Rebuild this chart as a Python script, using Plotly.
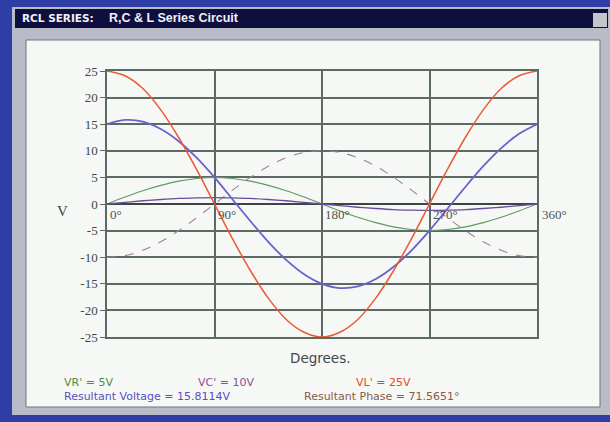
import plotly.graph_objects as go

degrees = [0, 15, 30, 45, 60, 75, 90, 105, 120, 135, 150, 165, 180,
           195, 210, 225, 240, 255, 270, 285, 300, 315, 330, 345, 360]
vl = [25, 24.1, 21.7, 17.7, 12.5, 6.5, 0, -6.5, -12.5, -17.7, -21.7, -24.1, -25,
      -24.1, -21.7, -17.7, -12.5, -6.5, 0, 6.5, 12.5, 17.7, 21.7, 24.1, 25]
vr = [0, 1.3, 2.5, 3.5, 4.3, 4.8, 5, 4.8, 4.3, 3.5, 2.5, 1.3, 0,
      -1.3, -2.5, -3.5, -4.3, -4.8, -5, -4.8, -4.3, -3.5, -2.5, -1.3, 0]
vc = [-10, -9.7, -8.7, -7.1, -5, -2.6, 0, 2.6, 5, 7.1, 8.7, 9.7, 10,
      9.7, 8.7, 7.1, 5, 2.6, 0, -2.6, -5, -7.1, -8.7, -9.7, -10]
vres = [15, 15.8, 15.5, 14.1, 11.8, 8.7, 5, 0.9, -3.2, -7.1, -10.5, -13.2, -15,
        -15.8, -15.5, -14.1, -11.8, -8.7, -5, -0.9, 3.2, 7.1, 10.5, 13.2, 15]
vsmall = [0, 0.3, 0.6, 0.85, 1.05, 1.15, 1.2, 1.15, 1.05, 0.85, 0.6, 0.3, 0,
          -0.3, -0.6, -0.85, -1.05, -1.15, -1.2, -1.15, -1.05, -0.85, -0.6, -0.3, 0]

y_ticks = [25, 20, 15, 10, 5, 0, -5, -10, -15, -20, -25]
y_tick_text = ["25", "20", "15", "10", "5", "0", "-5", "-10", "-15", "-20", "-25"]
x_grid = [0, 90, 180, 270, 360]
deg_labels = ["0°", "90°", "180°", "270°", "360°"]

title_left = "<b>RCL SERIES:</b>"
title_right = "<b>R,C &amp; L Series Circuit</b>"

W, H = 610, 422
L, R, T, B = 107, 73, 71, 85
PW, PH = W - L - R, H - T - B


def px(x):
    return (x - L) / PW


def py(y):
    return (H - B - y) / PH


fig = go.Figure()

fig.add_trace(go.Scatter(x=degrees, y=vc, mode="lines", line=dict(color="#a47e92", width=1.1, dash="dash", shape="spline")))
fig.add_trace(go.Scatter(x=degrees, y=vr, mode="lines", line=dict(color="#5f9a5e", width=1.1, shape="spline")))
fig.add_trace(go.Scatter(x=degrees, y=vsmall, mode="lines", line=dict(color="#6a4c9c", width=1.4, shape="spline")))
fig.add_trace(go.Scatter(x=degrees, y=vres, mode="lines", line=dict(color="#6a62cc", width=1.8, shape="spline")))
fig.add_trace(go.Scatter(x=degrees, y=vl, mode="lines", line=dict(color="#ea5a34", width=1.5, shape="spline")))

shapes = [
    # window body
    dict(type="rect", xref="paper", yref="paper", x0=px(12), x1=px(612), y0=py(415), y1=py(7),
         fillcolor="#b9bcc6", line=dict(width=0), layer="below"),
    # title bar
    dict(type="rect", xref="paper", yref="paper", x0=px(15), x1=px(608), y0=py(28), y1=py(9),
         fillcolor="#0e0f3e", line=dict(width=0), layer="below"),
    # close button
    dict(type="rect", xref="paper", yref="paper", x0=px(593), x1=px(607), y0=py(27), y1=py(13),
         fillcolor="#c4c6cc", line=dict(width=0), layer="below"),
    # client area
    dict(type="rect", xref="paper", yref="paper", x0=px(26), x1=px(600), y0=py(407), y1=py(40),
         fillcolor="#f6f8f6", line=dict(color="#70747a", width=1), layer="below"),
]

annotations = [
    dict(text=title_left, xref="paper", yref="paper", x=px(20), y=py(18), xanchor="left", yanchor="middle",
         showarrow=False, font=dict(family="DejaVu Sans", size=10.5, color="#f0f0f8")),
    dict(text=title_right, xref="paper", yref="paper", x=px(107), y=py(18), xanchor="left", yanchor="middle",
         showarrow=False, font=dict(family="Liberation Sans", size=12.5, color="#f0f0f8")),
    dict(text="V", xref="paper", yref="paper", x=px(62), y=py(211), xanchor="center", yanchor="middle",
         showarrow=False, font=dict(family="Liberation Serif", size=15, color="#404848")),
    dict(text="Degrees.", xref="paper", yref="paper", x=px(320), y=py(358), xanchor="center", yanchor="middle",
         showarrow=False, font=dict(family="DejaVu Sans", size=13.5, color="#404848")),
    dict(text="VR' = 5V", xref="paper", yref="paper", x=px(62), y=py(382), xanchor="left", yanchor="middle",
         showarrow=False, font=dict(family="DejaVu Sans", size=11, color="#4f8a45")),
    dict(text="VC' = 10V", xref="paper", yref="paper", x=px(196), y=py(382), xanchor="left", yanchor="middle",
         showarrow=False, font=dict(family="DejaVu Sans", size=11, color="#8c4f96")),
    dict(text="VL' = 25V", xref="paper", yref="paper", x=px(354), y=py(382), xanchor="left", yanchor="middle",
         showarrow=False, font=dict(family="DejaVu Sans", size=11, color="#e24a28")),
    dict(text="Resultant Voltage = 15.8114V", xref="paper", yref="paper", x=px(62), y=py(396), xanchor="left",
         yanchor="middle", showarrow=False, font=dict(family="DejaVu Sans", size=11, color="#5a4fc0")),
    dict(text="Resultant Phase = 71.5651°", xref="paper", yref="paper", x=px(302), y=py(396), xanchor="left",
         yanchor="middle", showarrow=False, font=dict(family="DejaVu Sans", size=11, color="#8a5a48")),
]
for xv, lab in zip(x_grid, deg_labels):
    annotations.append(dict(text=lab, x=xv, y=0, xref="x", yref="y", xanchor="left", yanchor="top",
                            xshift=1 if xv < 360 else 3, yshift=-1, showarrow=False,
                            font=dict(family="Liberation Serif", size=13, color="#4c5652")))

fig.update_layout(
    width=W, height=H,
    margin=dict(l=L, r=R, t=T, b=B),
    paper_bgcolor="#2e3ea6",
    plot_bgcolor="rgba(0,0,0,0)",
    showlegend=False,
    shapes=shapes,
    annotations=annotations,
    xaxis=dict(range=[0, 360], tickvals=x_grid, showticklabels=False, ticks="",
               showgrid=True, gridcolor="#5c6a64", gridwidth=1.5, zeroline=False,
               showline=True, linecolor="#5c6a64", linewidth=1.5, mirror=True, fixedrange=True),
    yaxis=dict(range=[-25, 25], tickvals=y_ticks, ticktext=y_tick_text, ticks="outside", ticklen=5,
               tickcolor="#5c6a64", tickwidth=1.2,
               tickfont=dict(family="Liberation Serif", size=13, color="#404848"),
               showgrid=True, gridcolor="#5c6a64", gridwidth=1.5, zeroline=True,
               zerolinecolor="#3c4442", zerolinewidth=2.2,
               showline=True, linecolor="#5c6a64", linewidth=1.5, mirror=True, fixedrange=True),
)

fig.write_html("out.html", config={"displayModeBar": False},
               post_script="document.body.style.margin='0';")
